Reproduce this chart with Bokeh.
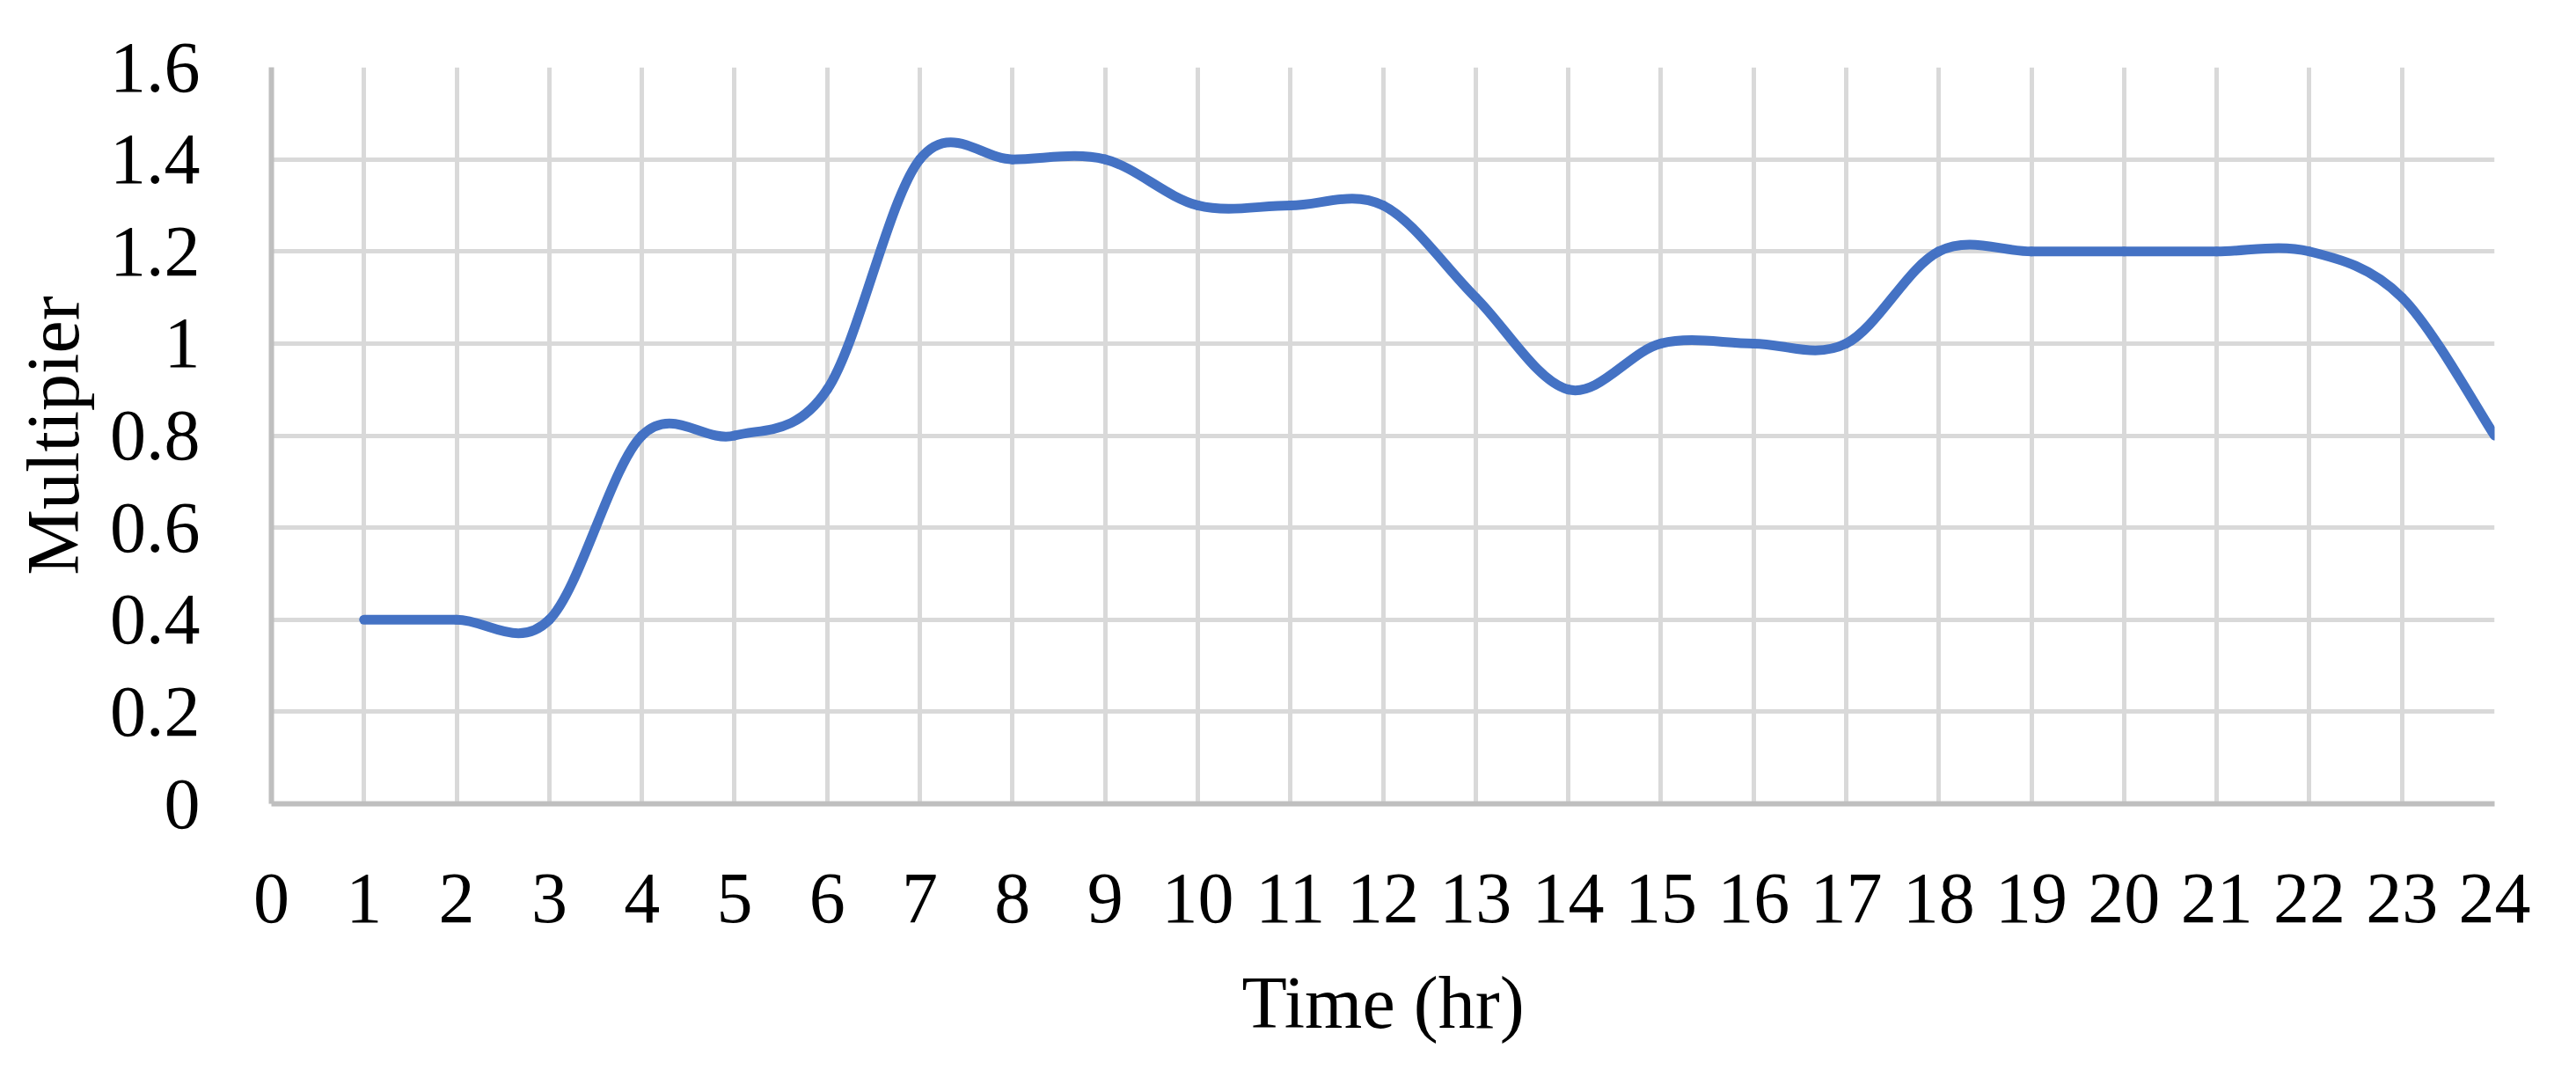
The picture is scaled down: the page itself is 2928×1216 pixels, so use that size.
import numpy as np
from bokeh.plotting import figure
from bokeh.models import FixedTicker, Range1d
from bokeh.embed import file_html
from bokeh.resources import INLINE

# ---- data ----
hours = [1, 2, 3, 4, 5, 6, 7, 8, 9, 10, 11, 12, 13, 14, 15, 16, 17, 18, 19, 20, 21, 22, 23, 24]
multiplier = [0.4, 0.4, 0.4, 0.8, 0.8, 0.9, 1.4, 1.4, 1.4, 1.3, 1.3, 1.3, 1.1, 0.9, 1.0, 1.0,
              1.0, 1.2, 1.2, 1.2, 1.2, 1.2, 1.1, 0.8]
x_ticks = list(range(0, 25))
y_ticks = [0, 0.2, 0.4, 0.6, 0.8, 1.0, 1.2, 1.4, 1.6]
y_tick_labels = ["0", "0.2", "0.4", "0.6", "0.8", "1", "1.2", "1.4", "1.6"]
x_title = "Time (hr)"
y_title = "Multipier"

FONT = "Liberation Serif"

p = figure(width=2912, height=1200, output_backend="svg", toolbar_location=None,
           x_range=Range1d(0, 24), y_range=Range1d(0, 1.6),
           min_border_left=308, min_border_right=77, min_border_top=76, min_border_bottom=287)
p.outline_line_color = None
p.background_fill_color = "white"
p.border_fill_color = "white"

# smoothed line (Catmull-Rom style bezier through the data points)
xs = np.array(hours, dtype=float)
ys = np.array(multiplier, dtype=float)
n = len(xs)
x0, y0, x1, y1, cx0, cy0, cx1, cy1 = [], [], [], [], [], [], [], []
for i in range(n - 1):
    pa = (xs[max(i - 1, 0)], ys[max(i - 1, 0)])
    pb = (xs[i], ys[i])
    pc = (xs[i + 1], ys[i + 1])
    pd = (xs[min(i + 2, n - 1)], ys[min(i + 2, n - 1)])
    x0.append(pb[0]); y0.append(pb[1]); x1.append(pc[0]); y1.append(pc[1])
    cx0.append(pb[0] + (pc[0] - pa[0]) / 6); cy0.append(pb[1] + (pc[1] - pa[1]) / 6)
    cx1.append(pc[0] - (pd[0] - pb[0]) / 6); cy1.append(pc[1] - (pd[1] - pb[1]) / 6)

p.bezier(x0=x0, y0=y0, x1=x1, y1=y1, cx0=cx0, cy0=cy0, cx1=cx1, cy1=cy1,
         line_color="#4472C4", line_width=11, line_cap="round")

# axes
p.xaxis.ticker = FixedTicker(ticks=x_ticks)
p.yaxis.ticker = FixedTicker(ticks=y_ticks)
p.yaxis.major_label_overrides = {t: l for t, l in zip(y_ticks, y_tick_labels)}
p.xaxis.major_label_overrides = {t: str(t) for t in x_ticks}

for ax in (p.xaxis, p.yaxis):
    ax.axis_line_color = "#bfbfbf"
    ax.axis_line_width = 6
    ax.major_tick_line_color = None
    ax.minor_tick_line_color = None
    ax.major_tick_out = 0
    ax.major_tick_in = 0
    ax.major_label_text_font = FONT
    ax.major_label_text_font_size = "82px"
    ax.major_label_text_color = "black"
    ax.axis_label_text_font = FONT
    ax.axis_label_text_font_size = "84px"
    ax.axis_label_text_font_style = "normal"
    ax.axis_label_text_color = "black"

p.xaxis.axis_label = x_title
p.yaxis.axis_label = y_title
p.xaxis.major_label_standoff = 80
p.yaxis.major_label_standoff = 81
p.xaxis.axis_label_standoff = 42
p.yaxis.axis_label_standoff = 15

p.xgrid.ticker = FixedTicker(ticks=x_ticks)
p.ygrid.ticker = FixedTicker(ticks=y_ticks)
for g in (p.xgrid, p.ygrid):
    g.grid_line_color = "#d9d9d9"
    g.grid_line_width = 5

open("out.html", "w").write(file_html(p, INLINE))
